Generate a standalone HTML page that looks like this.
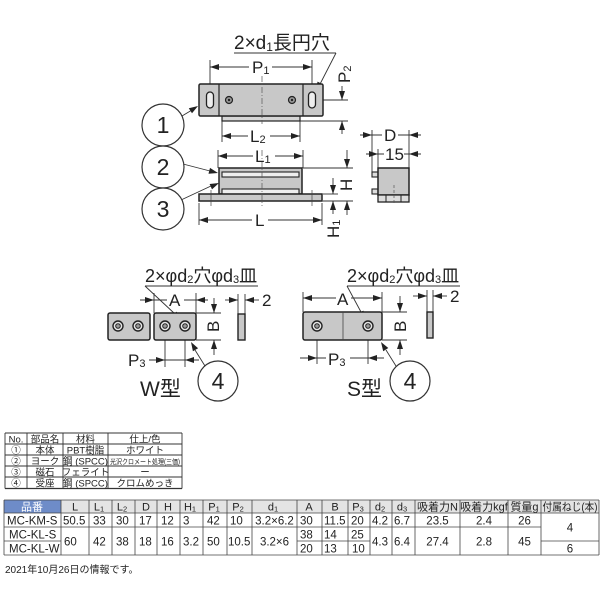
<!DOCTYPE html>
<html><head><meta charset="utf-8"><style>
html,body{margin:0;padding:0;background:#fff;}
svg{display:block;}
text{font-family:"Liberation Sans","Noto Sans CJK JP",sans-serif;fill:#222;}
</style></head><body>
<svg width="600" height="600" viewBox="0 0 600 600" xmlns="http://www.w3.org/2000/svg">
<rect width="600" height="600" fill="#fff"/>

<!-- ================= TOP VIEW ================= -->
<g stroke="#333" stroke-width="0.9" fill="none">
  <line x1="234" y1="53" x2="336" y2="53"/>
  <line x1="336" y1="53" x2="318" y2="88"/>
  <!-- P1 -->
  <line x1="210" y1="60" x2="210" y2="92"/><line x1="312" y1="60" x2="312" y2="92"/>
  <line x1="210" y1="67" x2="249" y2="67"/><line x1="272" y1="67" x2="312" y2="67"/>
  <!-- P2 ext -->
  <line x1="316" y1="100" x2="348" y2="100"/><line x1="300" y1="121" x2="348" y2="121"/>
  <line x1="342" y1="86" x2="342" y2="100"/><line x1="342" y1="121" x2="342" y2="134"/>
  <!-- L2 -->
  <line x1="222" y1="121" x2="222" y2="142"/><line x1="300" y1="121" x2="300" y2="142"/>
  <line x1="222" y1="136" x2="248" y2="136"/><line x1="270" y1="136" x2="300" y2="136"/>
  <!-- L1 -->
  <line x1="218" y1="150" x2="218" y2="168"/><line x1="303" y1="150" x2="303" y2="168"/>
  <line x1="218" y1="156" x2="253" y2="156"/><line x1="275" y1="156" x2="303" y2="156"/>
  <!-- L -->
  <line x1="199" y1="203" x2="199" y2="225"/><line x1="322" y1="203" x2="322" y2="225"/>
  <line x1="199" y1="220" x2="252" y2="220"/><line x1="268" y1="220" x2="322" y2="220"/>
  <!-- H / H1 ext -->
  <line x1="303" y1="168" x2="353" y2="168"/><line x1="323" y1="194" x2="338" y2="194"/>
  <line x1="323" y1="201" x2="353" y2="201"/>
  <line x1="347" y1="150" x2="347" y2="168"/><line x1="347" y1="201" x2="347" y2="215"/>
  <line x1="333" y1="178" x2="333" y2="194"/><line x1="333" y1="201" x2="333" y2="214"/>
  <!-- side view D / 15 -->
  <line x1="372" y1="130" x2="372" y2="172"/><line x1="409" y1="130" x2="409" y2="168"/>
  <line x1="378" y1="149" x2="378" y2="168"/>
  <line x1="360" y1="135" x2="382" y2="135"/><line x1="398" y1="135" x2="421" y2="135"/>
  <line x1="366" y1="154" x2="384" y2="154"/><line x1="404" y1="154" x2="421" y2="154"/>
  <!-- leaders -->
  <line x1="182" y1="116" x2="192" y2="110"/>
  <line x1="183" y1="164" x2="210" y2="171"/>
  <line x1="181" y1="200" x2="211" y2="186"/>
</g>
<g fill="#222">
  <polygon points="316,91 322.9,84.4 317.5,81.6"/>
  <polygon points="210,67 219,64 219,70"/><polygon points="312,67 303,64 303,70"/>
  <polygon points="342,100 339,91 345,91"/><polygon points="342,121 339,130 345,130"/>
  <polygon points="222,136 231,133 231,139"/><polygon points="300,136 291,133 291,139"/>
  <polygon points="218,156 227,153 227,159"/><polygon points="303,156 294,153 294,159"/>
  <polygon points="199,220 208,217 208,223"/><polygon points="322,220 313,217 313,223"/>
  <polygon points="347,168 344,159 350,159"/><polygon points="347,201 344,210 350,210"/>
  <polygon points="333,194 330,185 336,185"/><polygon points="333,201 330,210 336,210"/>
  <polygon points="372,135 363,132 363,138"/><polygon points="409,135 418,132 418,138"/>
  <polygon points="378,154 369,151 369,157"/><polygon points="409,154 418,151 418,157"/>
  <polygon points="198,106 192,113.3 188.8,108.3"/>
  <polygon points="218,173 208.5,173.7 210,167.9"/>
  <polygon points="219,183 212,189.4 209.6,184"/>
</g>
<!-- top body -->
<rect x="222" y="116" width="78" height="5" fill="#d6d6d6" stroke="#222" stroke-width="1.2"/>
<rect x="199" y="84" width="124" height="32" rx="1.5" fill="#c8c8c8" stroke="#222" stroke-width="1.5"/>
<line x1="219" y1="84" x2="219" y2="116" stroke="#222" stroke-width="1.2"/>
<line x1="303" y1="84" x2="303" y2="116" stroke="#222" stroke-width="1.2"/>
<rect x="206.5" y="92" width="7" height="16" rx="3.5" fill="#eee" stroke="#222" stroke-width="1.3"/>
<rect x="308.5" y="92" width="7" height="16" rx="3.5" fill="#eee" stroke="#222" stroke-width="1.3"/>
<circle cx="229" cy="100" r="3.5" fill="#999" stroke="#222" stroke-width="1.2"/><circle cx="229" cy="100" r="1.2" fill="#222"/>
<circle cx="292" cy="100" r="3.5" fill="#999" stroke="#222" stroke-width="1.2"/><circle cx="292" cy="100" r="1.2" fill="#222"/>
<line x1="262" y1="76" x2="262" y2="124" stroke="#555" stroke-width="0.7" stroke-dasharray="6,2,1,2"/>
<!-- side body -->
<rect x="219" y="168" width="83" height="26" fill="#c8c8c8" stroke="#222" stroke-width="1.5"/>
<rect x="222" y="172" width="77" height="5" fill="#eee" stroke="#222" stroke-width="1.1"/>
<rect x="222" y="189" width="77" height="5" fill="#eee" stroke="#222" stroke-width="1.1"/>
<rect x="199" y="194" width="123" height="7" fill="#c8c8c8" stroke="#222" stroke-width="1.5"/>
<line x1="262" y1="150" x2="262" y2="206" stroke="#555" stroke-width="0.7" stroke-dasharray="6,2,1,2"/>
<line x1="211" y1="190" x2="211" y2="206" stroke="#444" stroke-width="0.7"/>
<line x1="312" y1="190" x2="312" y2="206" stroke="#444" stroke-width="0.7"/>
<!-- small side view -->
<rect x="372" y="172" width="6" height="5" fill="#ddd" stroke="#222" stroke-width="1.1"/>
<rect x="372" y="189" width="6" height="5" fill="#ddd" stroke="#222" stroke-width="1.1"/>
<rect x="378" y="168" width="31" height="27" fill="#c8c8c8" stroke="#222" stroke-width="1.5"/>
<rect x="378" y="195" width="31" height="7" fill="#ddd" stroke="#222" stroke-width="1.3"/>
<line x1="386" y1="195" x2="386" y2="202" stroke="#222" stroke-width="1"/>
<line x1="401" y1="195" x2="401" y2="202" stroke="#222" stroke-width="1"/>
<line x1="394" y1="185" x2="394" y2="205" stroke="#555" stroke-width="0.7" stroke-dasharray="3,2"/>
<!-- circles -->
<g fill="#fff" stroke="#333" stroke-width="1.2">
  <circle cx="163" cy="125" r="21"/><circle cx="163" cy="167" r="21"/><circle cx="163" cy="209" r="21"/>
  <circle cx="218" cy="381" r="20"/><circle cx="410" cy="381" r="20"/>
</g>
<g font-size="23" text-anchor="middle">
  <text x="163" y="133">1</text><text x="163" y="175">2</text><text x="163" y="217">3</text>
  <text x="218" y="389">4</text><text x="410" y="389">4</text>
</g>
<!-- top labels -->
<text x="234" y="49" font-size="19">2×d<tspan font-size="12" dy="2">1</tspan><tspan dy="-2">長円穴</tspan></text>
<text x="252" y="73" font-size="17">P<tspan font-size="11" dy="1">1</tspan></text>
<text transform="translate(350,83) rotate(-90)" font-size="17">P<tspan font-size="11" dy="1">2</tspan></text>
<text x="250" y="142" font-size="17">L<tspan font-size="11" dy="1">2</tspan></text>
<text x="255" y="162" font-size="17">L<tspan font-size="11" dy="1">1</tspan></text>
<text x="255" y="226" font-size="17">L</text>
<text transform="translate(352,191) rotate(-90)" font-size="17">H</text>
<text transform="translate(339,238) rotate(-90)" font-size="17">H<tspan font-size="11" dy="1">1</tspan></text>
<text x="384" y="141" font-size="17">D</text>
<text x="385" y="160" font-size="17">15</text>

<!-- ================= W TYPE ================= -->
<g stroke="#333" stroke-width="0.9" fill="none">
  <line x1="145" y1="286" x2="258" y2="286"/>
  <line x1="145" y1="286" x2="175" y2="314"/>
  <line x1="154" y1="293" x2="154" y2="313"/><line x1="196" y1="293" x2="196" y2="313"/>
  <line x1="140" y1="300" x2="167" y2="300"/><line x1="184" y1="300" x2="208" y2="300"/>
  <line x1="196" y1="313" x2="221" y2="313"/><line x1="196" y1="340" x2="221" y2="340"/>
  <line x1="214" y1="298" x2="214" y2="313"/><line x1="214" y1="340" x2="214" y2="355"/>
  <line x1="238" y1="294" x2="238" y2="314"/><line x1="245" y1="294" x2="245" y2="314"/>
  <line x1="225" y1="300" x2="238" y2="300"/><line x1="245" y1="300" x2="259" y2="300"/>
  <line x1="165" y1="326" x2="165" y2="367"/><line x1="185" y1="326" x2="185" y2="367"/>
  <line x1="149" y1="360" x2="199" y2="360"/>
  <line x1="205" y1="366" x2="195" y2="350"/>
</g>
<g fill="#222">
  <polygon points="181,320 172.4,316 176.6,311.6"/>
  <polygon points="154,300 145,297 145,303"/><polygon points="196,300 205,297 205,303"/>
  <polygon points="214,313 211,304 217,304"/><polygon points="214,340 211,349 217,349"/>
  <polygon points="238,300 229,297 229,303"/><polygon points="245,300 254,297 254,303"/>
  <polygon points="165,360 156,357 156,363"/><polygon points="185,360 194,357 194,363"/>
  <polygon points="191,342 198.1,348.3 192.9,351.3"/>
</g>
<rect x="108" y="313" width="42" height="27" rx="2" fill="#c8c8c8" stroke="#222" stroke-width="1.5"/>
<rect x="154" y="313" width="42" height="27" rx="2" fill="#c8c8c8" stroke="#222" stroke-width="1.5"/>
<rect x="238" y="314" width="7" height="26" fill="#c8c8c8" stroke="#222" stroke-width="1.4"/>
<g stroke="#222">
  <circle cx="118" cy="326" r="5" fill="#e6e6e6" stroke-width="1.4"/><circle cx="118" cy="326" r="2.3" fill="#999" stroke-width="1"/>
  <circle cx="138" cy="326" r="5" fill="#e6e6e6" stroke-width="1.4"/><circle cx="138" cy="326" r="2.3" fill="#999" stroke-width="1"/>
  <circle cx="165" cy="326" r="5" fill="#e6e6e6" stroke-width="1.4"/><circle cx="165" cy="326" r="2.3" fill="#999" stroke-width="1"/>
  <circle cx="185" cy="326" r="5" fill="#e6e6e6" stroke-width="1.4"/><circle cx="185" cy="326" r="2.3" fill="#999" stroke-width="1"/>
</g>
<text x="145" y="282" font-size="18">2×φd<tspan font-size="11" dy="1">2</tspan><tspan dy="-1">穴φd</tspan><tspan font-size="11" dy="1">3</tspan><tspan dy="-1">皿</tspan></text>
<text x="169" y="306" font-size="17">A</text>
<text transform="translate(219,332) rotate(-90)" font-size="17">B</text>
<text x="262" y="306" font-size="17">2</text>
<text x="128" y="366" font-size="17">P<tspan font-size="11" dy="1">3</tspan></text>
<text x="140" y="396" font-size="21">W型</text>

<!-- ================= S TYPE ================= -->
<g stroke="#333" stroke-width="0.9" fill="none">
  <line x1="347" y1="286" x2="460" y2="286"/>
  <line x1="347" y1="286" x2="361" y2="312"/>
  <line x1="303" y1="292" x2="303" y2="312"/><line x1="382" y1="292" x2="382" y2="312"/>
  <line x1="303" y1="298" x2="336" y2="298"/><line x1="351" y1="298" x2="382" y2="298"/>
  <line x1="382" y1="312" x2="407" y2="312"/><line x1="382" y1="340" x2="407" y2="340"/>
  <line x1="400" y1="296" x2="400" y2="312"/><line x1="400" y1="340" x2="400" y2="355"/>
  <line x1="427" y1="290" x2="427" y2="312"/><line x1="433" y1="290" x2="433" y2="312"/>
  <line x1="413" y1="296" x2="427" y2="296"/><line x1="433" y1="296" x2="447" y2="296"/>
  <line x1="317" y1="326" x2="317" y2="364"/><line x1="368" y1="326" x2="368" y2="364"/>
  <line x1="300" y1="358" x2="326" y2="358"/><line x1="350" y1="358" x2="384" y2="358"/>
  <line x1="396" y1="366" x2="386" y2="350"/>
  <line x1="343" y1="312" x2="343" y2="340"/>
</g>
<g fill="#222">
  <polygon points="365,320 358.1,313.4 363.4,310.6"/>
  <polygon points="303,298 312,295 312,301"/><polygon points="382,298 373,295 373,301"/>
  <polygon points="400,312 397,303 403,303"/><polygon points="400,340 397,349 403,349"/>
  <polygon points="427,296 418,293 418,299"/><polygon points="433,296 442,293 442,299"/>
  <polygon points="317,358 308,355 308,361"/><polygon points="368,358 377,355 377,361"/>
  <polygon points="381,342 388.3,348 383.2,351.2"/>
</g>
<rect x="303" y="312" width="79" height="28" rx="2" fill="#c8c8c8" stroke="#222" stroke-width="1.5"/>
<line x1="343" y1="312" x2="343" y2="340" stroke="#444" stroke-width="0.8"/>
<rect x="427" y="312" width="6" height="26" fill="#c8c8c8" stroke="#222" stroke-width="1.4"/>
<g stroke="#222">
  <circle cx="317" cy="326" r="5" fill="#e6e6e6" stroke-width="1.4"/><circle cx="317" cy="326" r="2.3" fill="#999" stroke-width="1"/>
  <circle cx="368" cy="326" r="5" fill="#e6e6e6" stroke-width="1.4"/><circle cx="368" cy="326" r="2.3" fill="#999" stroke-width="1"/>
</g>
<text x="347" y="282" font-size="18">2×φd<tspan font-size="11" dy="1">2</tspan><tspan dy="-1">穴φd</tspan><tspan font-size="11" dy="1">3</tspan><tspan dy="-1">皿</tspan></text>
<text x="337" y="305" font-size="17">A</text>
<text transform="translate(406,332) rotate(-90)" font-size="17">B</text>
<text x="450" y="302" font-size="17">2</text>
<text x="328" y="365" font-size="17">P<tspan font-size="11" dy="1">3</tspan></text>
<text x="347" y="396" font-size="21">S型</text>

<!-- ================= PARTS TABLE ================= -->
<g stroke="#333" stroke-width="0.9">
  <line x1="5" y1="433" x2="182" y2="433"/><line x1="5" y1="444" x2="182" y2="444"/>
  <line x1="5" y1="455" x2="182" y2="455"/><line x1="5" y1="466" x2="182" y2="466"/>
  <line x1="5" y1="477" x2="182" y2="477"/><line x1="5" y1="488.5" x2="182" y2="488.5" stroke-width="1.3"/>
  <line x1="5" y1="433" x2="5" y2="488.5"/><line x1="27" y1="433" x2="27" y2="488.5"/>
  <line x1="63" y1="433" x2="63" y2="488.5"/><line x1="108" y1="433" x2="108" y2="488.5"/>
  <line x1="182" y1="433" x2="182" y2="488.5"/>
</g>
<g font-size="9.5" text-anchor="middle">
  <text x="16" y="442.5">No.</text><text x="45" y="442.5">部品名</text><text x="85.5" y="442.5">材料</text><text x="145" y="442.5">仕上/色</text>
  <text x="16" y="453.5">①</text><text x="45" y="453.5">本体</text><text x="85.5" y="453.5">PBT樹脂</text><text x="145" y="453.5">ホワイト</text>
  <text x="16" y="464.5">②</text><text x="45" y="464.5">ヨーク</text><text x="85.5" y="464.5">鋼 (SPCC)</text><text x="145" y="464" font-size="7" textLength="70" lengthAdjust="spacingAndGlyphs">光沢クロメート処理(三価)</text>
  <text x="16" y="475.5">③</text><text x="45" y="475.5">磁石</text><text x="85.5" y="475.5">フェライト</text><text x="145" y="475.5">ー</text>
  <text x="16" y="486.5">④</text><text x="45" y="486.5">受座</text><text x="85.5" y="486.5">鋼 (SPCC)</text><text x="145" y="486.5">クロムめっき</text>
</g>

<!-- ================= MAIN TABLE ================= -->
<rect x="4" y="500" width="595" height="13" fill="#e4e4e4"/>
<rect x="4" y="500" width="57" height="13" fill="#6e8cc8"/>
<g stroke="#444" stroke-width="0.8">
  <line x1="4" y1="500" x2="599" y2="500"/><line x1="4" y1="513" x2="599" y2="513"/>
  <line x1="4" y1="527" x2="541" y2="527"/>
  <line x1="4" y1="541" x2="61" y2="541"/><line x1="297" y1="541" x2="370" y2="541"/><line x1="541" y1="541" x2="599" y2="541"/>
  <line x1="4" y1="555" x2="599" y2="555"/>
  <line x1="4" y1="500" x2="4" y2="555"/><line x1="61" y1="500" x2="61" y2="555"/>
  <line x1="89" y1="500" x2="89" y2="555"/><line x1="112" y1="500" x2="112" y2="555"/>
  <line x1="135" y1="500" x2="135" y2="555"/><line x1="157" y1="500" x2="157" y2="555"/>
  <line x1="180" y1="500" x2="180" y2="555"/><line x1="203" y1="500" x2="203" y2="555"/>
  <line x1="227" y1="500" x2="227" y2="555"/><line x1="252" y1="500" x2="252" y2="555"/>
  <line x1="297" y1="500" x2="297" y2="555"/><line x1="322" y1="500" x2="322" y2="555"/>
  <line x1="348" y1="500" x2="348" y2="555"/><line x1="370" y1="500" x2="370" y2="555"/>
  <line x1="392" y1="500" x2="392" y2="555"/><line x1="415" y1="500" x2="415" y2="555"/>
  <line x1="460" y1="500" x2="460" y2="555"/><line x1="508" y1="500" x2="508" y2="555"/>
  <line x1="541" y1="500" x2="541" y2="555"/><line x1="599" y1="500" x2="599" y2="555"/>
</g>
<g font-size="11" text-anchor="middle" fill="#333">
  <text x="32" y="510.5" style="fill:#fff">品番</text>
  <text x="75" y="510.5">L</text>
  <text x="99" y="510.5">L<tspan font-size="7.5" dy="1">1</tspan></text>
  <text x="122" y="510.5">L<tspan font-size="7.5" dy="1">2</tspan></text>
  <text x="146" y="510.5">D</text>
  <text x="168" y="510.5">H</text>
  <text x="190" y="510.5">H<tspan font-size="7.5" dy="1">1</tspan></text>
  <text x="214" y="510.5">P<tspan font-size="7.5" dy="1">1</tspan></text>
  <text x="238" y="510.5">P<tspan font-size="7.5" dy="1">2</tspan></text>
  <text x="273" y="510.5">d<tspan font-size="7.5" dy="1">1</tspan></text>
  <text x="309" y="510.5">A</text>
  <text x="335" y="510.5">B</text>
  <text x="358" y="510.5">P<tspan font-size="7.5" dy="1">3</tspan></text>
  <text x="380" y="510.5">d<tspan font-size="7.5" dy="1">2</tspan></text>
  <text x="402" y="510.5">d<tspan font-size="7.5" dy="1">3</tspan></text>
  <text x="437.5" y="510.5">吸着力N</text>
  <text x="484" y="510.5">吸着力kgf</text>
  <text x="524.5" y="510.5">質量g</text>
  <text x="570" y="510.5" textLength="55" lengthAdjust="spacingAndGlyphs">付属ねじ(本)</text>
</g>
<g font-size="11.5" fill="#333">
  <text x="7" y="524.5">MC-KM-S</text>
  <text x="63" y="524.5">50.5</text>
  <text x="93" y="524.5">33</text>
  <text x="116" y="524.5">30</text>
  <text x="139" y="524.5">17</text>
  <text x="161" y="524.5">12</text>
  <text x="183" y="524.5">3</text>
  <text x="207" y="524.5">42</text>
  <text x="230" y="524.5">10</text>
  <text x="274.5" y="524.5" text-anchor="middle">3.2×6.2</text>
  <text x="300" y="524.5">30</text>
  <text x="324" y="524.5">11.5</text>
  <text x="351" y="524.5">20</text>
  <text x="372" y="524.5">4.2</text>
  <text x="394" y="524.5">6.7</text>
  <text x="437.5" y="524.5" text-anchor="middle">23.5</text>
  <text x="484" y="524.5" text-anchor="middle">2.4</text>
  <text x="524.5" y="524.5" text-anchor="middle">26</text>
  <text x="570" y="531.5" text-anchor="middle">4</text>

  <text x="9" y="538.5">MC-KL-S</text>
  <text x="9" y="552.5">MC-KL-W</text>
  <text x="64" y="545.5">60</text>
  <text x="93" y="545.5">42</text>
  <text x="116" y="545.5">38</text>
  <text x="139" y="545.5">18</text>
  <text x="161" y="545.5">16</text>
  <text x="183" y="545.5">3.2</text>
  <text x="207" y="545.5">50</text>
  <text x="228" y="545.5">10.5</text>
  <text x="274.5" y="545.5" text-anchor="middle">3.2×6</text>
  <text x="300" y="538.5">38</text>
  <text x="324" y="538.5">14</text>
  <text x="351" y="538.5">25</text>
  <text x="300" y="552.5">20</text>
  <text x="324" y="552.5">13</text>
  <text x="352" y="552.5">10</text>
  <text x="372" y="545.5">4.3</text>
  <text x="394" y="545.5">6.4</text>
  <text x="437.5" y="545.5" text-anchor="middle">27.4</text>
  <text x="484" y="545.5" text-anchor="middle">2.8</text>
  <text x="524.5" y="545.5" text-anchor="middle">45</text>
  <text x="570" y="552.5" text-anchor="middle">6</text>
</g>
<text x="5" y="573" font-size="10" fill="#333">2021年10月26日の情報です。</text>
</svg>
</body></html>
